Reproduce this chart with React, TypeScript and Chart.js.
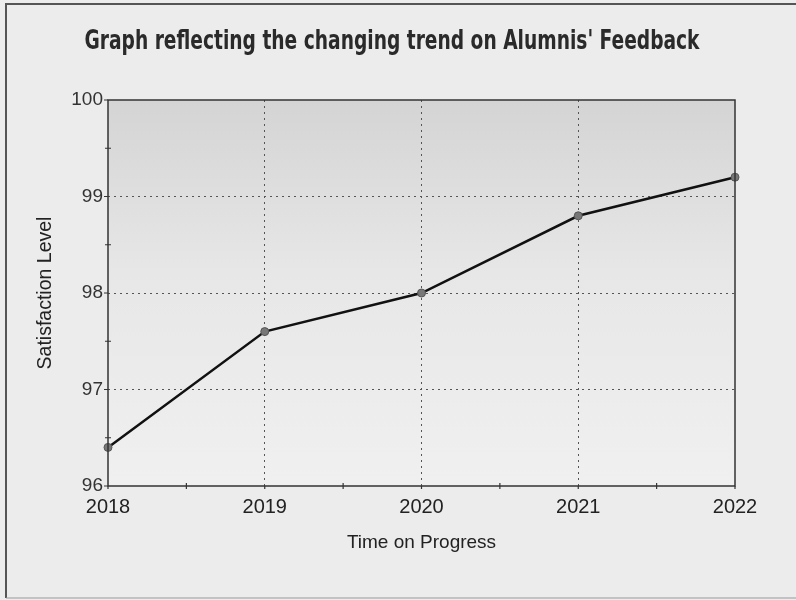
import React, { useEffect, useRef } from "react";
import { Chart, registerables } from "chart.js";

Chart.register(...registerables);

const years = ["2018", "2019", "2020", "2021", "2022"];
const satisfaction = [96.4, 97.6, 98.0, 98.8, 99.2];
const yMin = 96;
const yMax = 100;

const TITLE = "Graph reflecting the changing trend on Alumnis' Feedback";
const X_TITLE = "Time on Progress";
const Y_TITLE = "Satisfaction Level";

const decor = {
  id: "decor",
  beforeDraw(chart: any) {
    const { ctx, chartArea: a, width, height } = chart;
    ctx.save();
    ctx.fillStyle = "#ececec";
    ctx.fillRect(0, 0, width, height);
    const g = ctx.createLinearGradient(0, a.top, 0, a.bottom);
    g.addColorStop(0, "#d4d4d4");
    g.addColorStop(0.45, "#e7e7e7");
    g.addColorStop(1, "#f0f0f0");
    ctx.fillStyle = g;
    ctx.fillRect(a.left, a.top, a.right - a.left, a.bottom - a.top);
    // outer frame
    ctx.strokeStyle = "#555";
    ctx.lineWidth = 2;
    ctx.beginPath();
    ctx.moveTo(6, height - 2);
    ctx.lineTo(6, 4);
    ctx.lineTo(width, 4);
    ctx.stroke();
    ctx.strokeStyle = "#999";
    ctx.lineWidth = 1;
    ctx.beginPath();
    ctx.moveTo(6, height - 2);
    ctx.lineTo(width, height - 2);
    ctx.stroke();
    // title
    ctx.fillStyle = "#2a2a2a";
    ctx.font = 'bold 27px "DejaVu Sans Condensed", "Liberation Sans Narrow", sans-serif';
    ctx.textAlign = "center";
    ctx.textBaseline = "alphabetic";
    ctx.fillText(TITLE, 392, 49, 615);
    ctx.restore();
  },
  afterDraw(chart: any) {
    const { ctx, chartArea: a, scales } = chart;
    const x = scales.x;
    const y = scales.y;
    ctx.save();
    ctx.strokeStyle = "#333";
    ctx.lineWidth = 1.5;
    ctx.strokeRect(a.left, a.top, a.right - a.left, a.bottom - a.top);
    ctx.lineWidth = 1.2;
    ctx.beginPath();
    for (let v = yMin; v <= yMax; v += 0.5) {
      const py = y.getPixelForValue(v);
      if (Number.isInteger(v)) {
        ctx.moveTo(a.left - 4, py);
        ctx.lineTo(a.left, py);
      } else {
        ctx.moveTo(a.left - 3, py);
        ctx.lineTo(a.left + 3, py);
      }
    }
    for (let i = 0; i <= years.length - 1; i += 0.5) {
      const px = x.getPixelForValue(i);
      if (Number.isInteger(i)) {
        ctx.moveTo(px, a.bottom);
        ctx.lineTo(px, a.bottom + 3);
      } else {
        ctx.moveTo(px, a.bottom - 3);
        ctx.lineTo(px, a.bottom + 3);
      }
    }
    ctx.stroke();
    ctx.restore();
  },
};

export default function App() {
  const ref = useRef<HTMLCanvasElement>(null);
  useEffect(() => {
    if (!ref.current) return;
    const chart = new Chart(ref.current, {
      type: "line",
      data: {
        labels: years,
        datasets: [
          {
            data: satisfaction,
            borderColor: "#111",
            borderWidth: 2.5,
            pointRadius: 4,
            pointBackgroundColor: "#777",
            pointBorderColor: "#555",
            pointBorderWidth: 1,
            tension: 0,
          },
        ],
      },
      options: {
        animation: false,
        responsive: true,
        maintainAspectRatio: false,
        layout: { padding: { top: 100, right: 61, bottom: 44, left: 30 } },
        plugins: {
          legend: { display: false },
          title: { display: false },
          tooltip: { enabled: false },
        },
        scales: {
          x: {
            type: "category",
            offset: false,
            afterFit: (s: any) => {
              s.height = 70;
            },
            grid: {
              drawTicks: false,
              color: (c: any) =>
                c.index === 0 || c.index === years.length - 1 ? "rgba(0,0,0,0)" : "#555",
              lineWidth: 1,
            },
            border: { display: false, dash: [2, 4] },
            ticks: {
              padding: 9,
              color: "#222",
              font: { family: '"Liberation Sans", Arial, sans-serif', size: 20 },
              maxRotation: 0,
            },
            title: {
              display: true,
              text: X_TITLE,
              color: "#222",
              font: { family: '"Liberation Sans", Arial, sans-serif', size: 19 },
              padding: { top: 4, bottom: 2 },
            },
          },
          y: {
            min: yMin,
            max: yMax,
            afterFit: (s: any) => {
              s.width = 78;
            },
            ticks: {
              stepSize: 1,
              padding: 5,
              color: "#333",
              font: { family: '"Liberation Sans", Arial, sans-serif', size: 19 },
            },
            grid: {
              drawTicks: false,
              color: (c: any) =>
                c.tick && (c.tick.value === yMin || c.tick.value === yMax)
                  ? "rgba(0,0,0,0)"
                  : "#555",
              lineWidth: 1,
            },
            border: { display: false, dash: [2, 4] },
            title: {
              display: true,
              text: Y_TITLE,
              color: "#222",
              font: { family: '"Liberation Sans", Arial, sans-serif', size: 19.5 },
              padding: { top: 4, bottom: 4 },
            },
          },
        },
      },
      plugins: [decor],
    });
    return () => chart.destroy();
  }, []);
  return (
    <div style={{ position: "fixed", left: 0, top: 0, width: 796, height: 600 }}>
      <canvas ref={ref} />
    </div>
  );
}
